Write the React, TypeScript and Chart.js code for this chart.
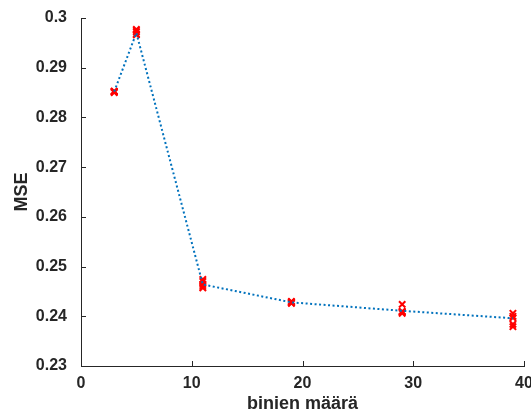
import React, { useEffect, useRef } from "react";
import { Chart, registerables } from "chart.js";

Chart.register(...registerables);

const binCounts = [3, 5, 11, 19, 29, 39];
const meanMSE = [0.2852, 0.297, 0.2464, 0.2428, 0.2411, 0.2396];
const run1 = [0.2851, 0.2977, 0.2474, 0.2430, 0.2424, 0.2406];
const run2 = [0.2853, 0.2975, 0.2470, 0.2428, 0.2410, 0.2400];
const run3 = [0.2852, 0.2968, 0.2464, 0.2427, 0.2408, 0.2397];
const run4 = [0.2850, 0.2966, 0.2460, 0.2426, 0.2406, 0.2384];
const run5 = [0.2852, 0.2972, 0.2457, 0.2429, 0.2409, 0.2379];
const runs = [run1, run2, run3, run4, run5];

const xTicks = [0, 10, 20, 30, 40];
const yTicks = [0.23, 0.24, 0.25, 0.26, 0.27, 0.28, 0.29, 0.3];

const AXIS = "#262626";
const FONT = "'Liberation Sans', Arial, Helvetica, sans-serif";

const innerTicks = {
  id: "innerTicks",
  afterDraw(chart: any) {
    const { ctx, chartArea, scales } = chart;
    const x = scales.x;
    const y = scales.y;
    ctx.save();
    ctx.strokeStyle = AXIS;
    ctx.lineWidth = 1;
    ctx.beginPath();
    xTicks.forEach((t) => {
      const px = Math.round(x.getPixelForValue(t)) + 0.5;
      ctx.moveTo(px, chartArea.bottom);
      ctx.lineTo(px, chartArea.bottom - 5);
    });
    yTicks.forEach((t) => {
      const py = Math.round(y.getPixelForValue(t)) + 0.5;
      ctx.moveTo(chartArea.left, py);
      ctx.lineTo(chartArea.left + 5, py);
    });
    ctx.stroke();
    ctx.restore();
  },
};

export default function App() {
  const ref = useRef<HTMLCanvasElement | null>(null);

  useEffect(() => {
    if (!ref.current) return;
    const scatterSets = runs.map((r, i) => ({
      type: "scatter" as const,
      label: `run ${i + 1}`,
      data: binCounts.map((b, j) => ({ x: b, y: r[j] })),
      pointStyle: "crossRot",
      pointRadius: 4.5,
      pointBorderWidth: 2,
      borderColor: "#FF0000",
      backgroundColor: "#FF0000",
      showLine: false,
      order: 2,
    }));
    const chart = new Chart(ref.current, {
      type: "scatter",
      data: {
        datasets: [
          {
            type: "line",
            label: "mean",
            data: binCounts.map((b, j) => ({ x: b, y: meanMSE[j] })),
            borderColor: "#0072BD",
            borderWidth: 2,
            borderDash: [2, 2.5],
            pointRadius: 0,
            fill: false,
            tension: 0,
            order: 1,
          } as any,
          ...scatterSets,
        ],
      },
      options: {
        animation: false,
        responsive: true,
        maintainAspectRatio: false,
        layout: { padding: { top: 18, right: 7, left: 0, bottom: 0 } },
        plugins: { legend: { display: false }, tooltip: { enabled: false } },
        scales: {
          x: {
            type: "linear",
            min: 0,
            max: 40,
            afterBuildTicks: (s: any) => {
              s.ticks = xTicks.map((v) => ({ value: v }));
            },
            afterFit: (s: any) => {
              s.height = 50;
              s.paddingLeft = 0;
              s.paddingRight = 0;
            },
            grid: { display: false, drawTicks: false },
            border: { display: true, color: AXIS, width: 1 },
            ticks: {
              color: AXIS,
              padding: 8,
              maxRotation: 0,
              font: { family: FONT, size: 16, weight: "bold" },
            },
            title: {
              display: true,
              text: "binien määrä",
              color: AXIS,
              padding: { top: 0, bottom: 1 },
              font: { family: FONT, size: 18, weight: "bold" },
            },
          },
          y: {
            type: "linear",
            min: 0.23,
            max: 0.3,
            afterBuildTicks: (s: any) => {
              s.ticks = yTicks.map((v) => ({ value: v }));
            },
            afterFit: (s: any) => {
              s.width = 81;
              s.paddingTop = 0;
              s.paddingBottom = 0;
            },
            grid: { display: false, drawTicks: false },
            border: { display: true, color: AXIS, width: 1 },
            ticks: {
              color: AXIS,
              padding: 14,
              font: { family: FONT, size: 16, weight: "bold" },
              callback: (v: any) => String(Math.round(Number(v) * 100) / 100),
            },
            title: {
              display: true,
              text: "MSE",
              color: AXIS,
              padding: { top: 11, bottom: 0 },
              font: { family: FONT, size: 18, weight: "bold" },
            },
          },
        },
      },
      plugins: [innerTicks],
    });
    return () => chart.destroy();
  }, []);

  return (
    <div style={{ position: "fixed", left: 0, top: 0, width: 531, height: 416, background: "#fff" }}>
      <canvas ref={ref} />
    </div>
  );
}
